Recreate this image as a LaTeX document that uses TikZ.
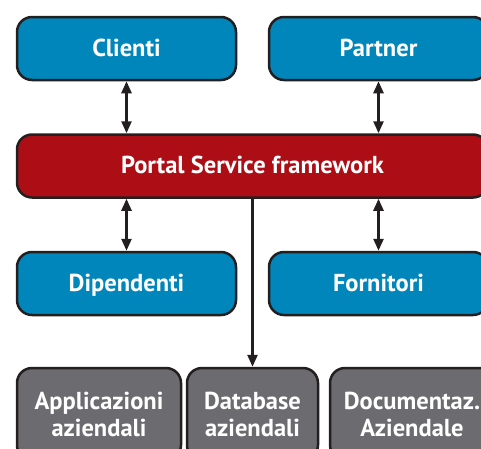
\documentclass[tikz,border=0pt]{standalone}
\usepackage{fontspec}
\setmainfont{PT Sans}
\usetikzlibrary{arrows.meta}
\definecolor{boxblue}{HTML}{0086BA}
\definecolor{boxred}{HTML}{AD0E16}
\definecolor{boxgray}{HTML}{6B6B70}
\definecolor{edge}{HTML}{231F20}
\begin{document}
\begin{tikzpicture}[x=1pt,y=-1pt,>={Triangle[length=12pt,width=10pt]}]
			\tikzstyle{every node} = [draw=edge,line width=2.5pt,rounded corners=15pt,text=white,font=\fontsize{24.5}{27}\selectfont\bfseries,align=center,inner sep=0pt];
			\tikzstyle{partner} = [fill=boxblue,minimum width=219pt,minimum height=63pt,text height=19pt,text depth=4pt];
			\tikzstyle{portal} = [fill=boxred,minimum width=471pt,minimum height=63pt,text height=19pt,text depth=4pt];
			\tikzstyle{store} = [fill=boxgray,minimum height=92pt];
			\useasboundingbox (0,0) rectangle (481,448);
			\clip (0,0) rectangle (481,448);
			\node[partner] (cl) at (126.5, 48.5) {Clienti};
			\node[partner] (pa) at (378.5, 48.5) {Partner};
			\node[portal] (ps) at (252.5, 166) {Portal Service framework};
			\node[partner] (di) at (126.5, 283.5) {Dipendenti};
			\node[partner] (fo) at (378.5, 283.5) {Fornitori};
			\node[store,minimum width=164pt] (ap) at (99, 414) {Applicazioni\\aziendali};
			\node[store,minimum width=131pt] (db) at (252.5, 414) {Database\\aziendali};
			\node[store,minimum width=164pt] (dc) at (412, 414) {Documentaz.\\Aziendale};
			\draw[<->,line width=2.5pt,color=edge] (cl) -- (cl |- ps.north);
			\draw[<->,line width=2.5pt,color=edge] (pa) -- (pa |- ps.north);
			\draw[<->,line width=2.5pt,color=edge] (di) -- (di |- ps.south);
			\draw[<->,line width=2.5pt,color=edge] (fo) -- (fo |- ps.south);
			\draw[->,line width=2.5pt,color=edge] (ps) -- (db);
		\end{tikzpicture}
\end{document}
